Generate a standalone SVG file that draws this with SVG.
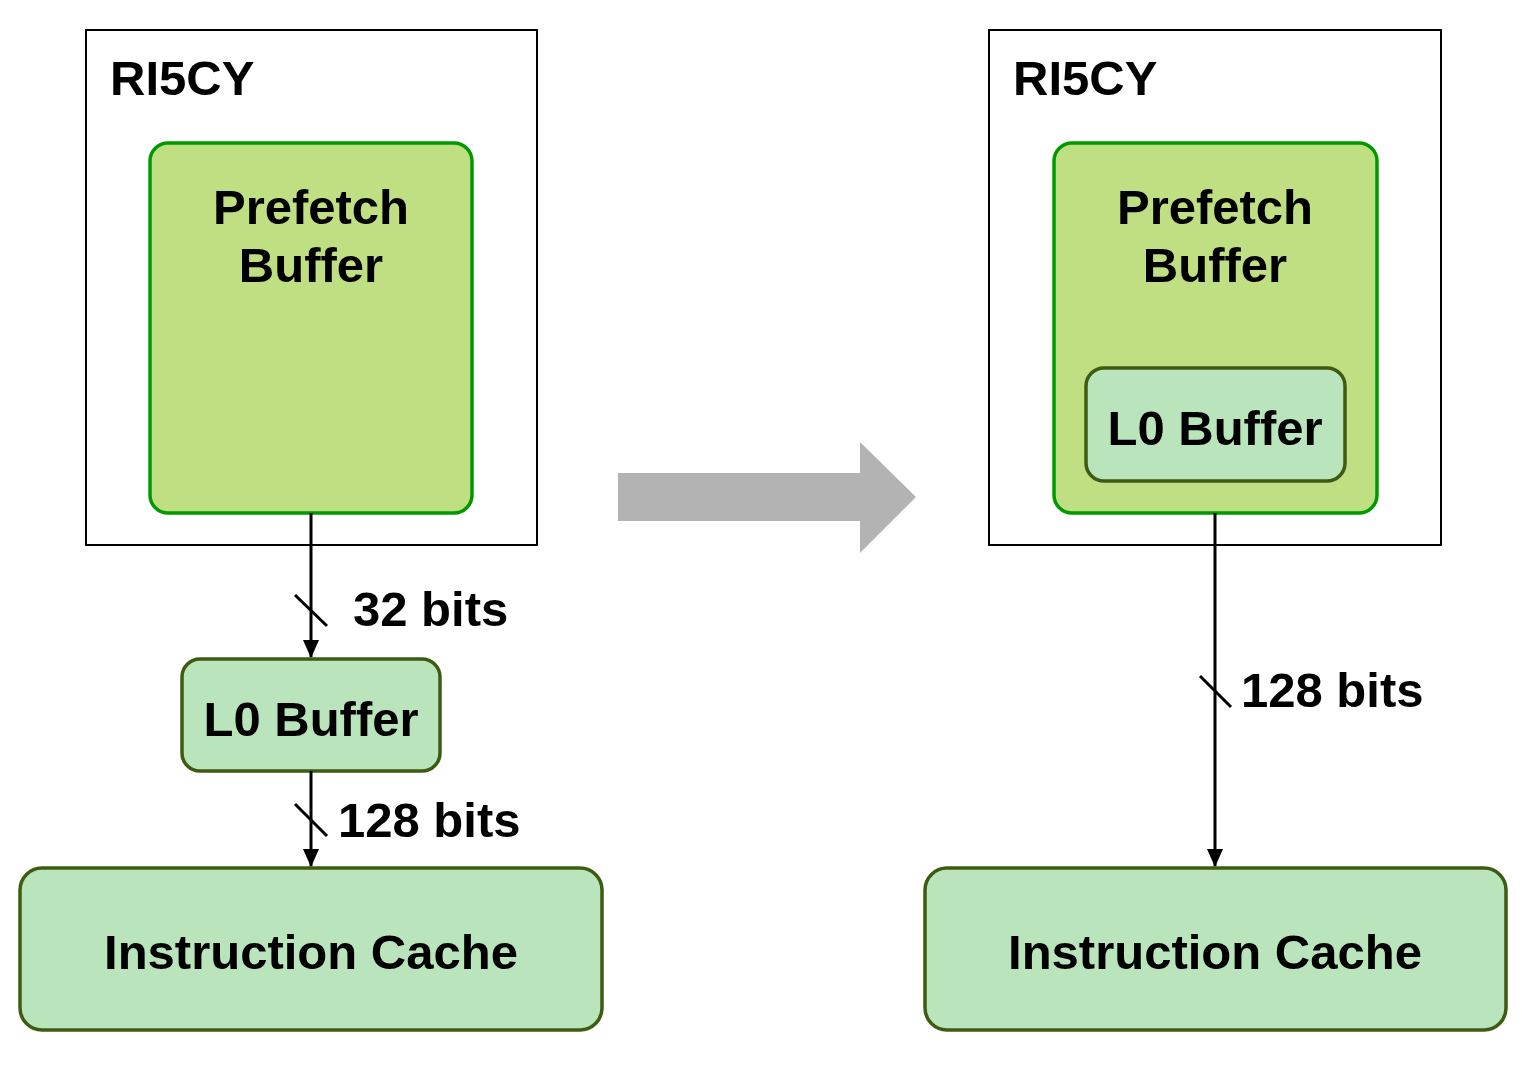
<svg xmlns="http://www.w3.org/2000/svg" width="1522" height="1078" viewBox="0 0 1522 1078">
<defs>
<style>
text{font-family:"Liberation Sans",Arial,sans-serif;font-weight:bold;font-size:49px;fill:#000}
.mid{text-anchor:middle}
.core{fill:#fff;stroke:#000;stroke-width:2}
.pf{fill:#bfdf82;stroke:#009900;stroke-width:3.5}
.l0{fill:#b9e4bc;stroke:#3e5b12;stroke-width:3.5}
.wire{stroke:#000;stroke-width:3;fill:none}
</style>
<marker id="ah" markerWidth="18" markerHeight="16" refX="17" refY="8" orient="auto" markerUnits="userSpaceOnUse" viewBox="0 0 18 16">
<path d="M0,0 L18,8 L0,16 Z" fill="#000"/>
</marker>
</defs>
<rect width="1522" height="1078" fill="#fff"/>
<g id="left-core">
<rect class="core" x="86" y="30" width="451" height="515"/>
<text x="110" y="95">RI5CY</text>
</g>
<g id="left-prefetch">
<rect class="pf" x="150" y="143" width="322" height="370" rx="18"/>
<text class="mid" x="311" y="224">Prefetch</text>
<text class="mid" x="311" y="282">Buffer</text>
</g>
<g id="left-l0">
<rect class="l0" x="182" y="659" width="258" height="112" rx="18"/>
<text class="mid" x="311" y="736">L0 Buffer</text>
</g>
<g id="left-icache">
<rect class="l0" x="20" y="868" width="582" height="162" rx="22"/>
<text class="mid" x="311" y="969">Instruction Cache</text>
</g>
<g id="right-core">
<rect class="core" x="989" y="30" width="452" height="515"/>
<text x="1013" y="95">RI5CY</text>
</g>
<g id="right-prefetch">
<rect class="pf" x="1054" y="143" width="323" height="370" rx="18"/>
<text class="mid" x="1215" y="224">Prefetch</text>
<text class="mid" x="1215" y="282">Buffer</text>
</g>
<g id="right-l0">
<rect class="l0" x="1086" y="368" width="259" height="113" rx="18"/>
<text class="mid" x="1215" y="445">L0 Buffer</text>
</g>
<g id="right-icache">
<rect class="l0" x="925" y="868" width="581" height="162" rx="22"/>
<text class="mid" x="1215" y="969">Instruction Cache</text>
</g>
<g id="transform-arrow">
<path d="M618,473 L860,473 L860,442 L916,497 L860,553 L860,521 L618,521 Z" fill="#b3b3b3"/>
</g>
<g id="connectors">
<line class="wire" x1="311" y1="513" x2="311" y2="657" marker-end="url(#ah)"/>
<line class="wire" x1="295" y1="595" x2="327" y2="626"/>
<text x="353" y="626">32 bits</text>
<line class="wire" x1="311" y1="771" x2="311" y2="866" marker-end="url(#ah)"/>
<line class="wire" x1="295" y1="804" x2="327" y2="836"/>
<text x="338" y="837">128 bits</text>
<line class="wire" x1="1215" y1="513" x2="1215" y2="866" marker-end="url(#ah)"/>
<line class="wire" x1="1200" y1="676" x2="1231" y2="707"/>
<text x="1241" y="707">128 bits</text>
</g>
</svg>
